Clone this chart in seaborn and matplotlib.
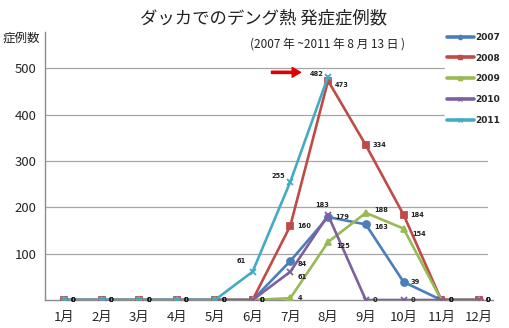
import numpy as np
import pandas as pd
import matplotlib
matplotlib.use("Agg")
import matplotlib.pyplot as plt
import seaborn as sns
from matplotlib.lines import Line2D

months = list(range(1, 13))
month_labels = ["1月", "2月", "3月", "4月", "5月", "6月", "7月", "8月", "9月", "10月", "11月", "12月"]
y2007 = [0, 0, 0, 0, 0, 0, 84, 179, 163, 39, 0, 0]
y2008 = [0, 0, 0, 0, 0, 0, 160, 473, 334, 184, 0, 0]
y2009 = [0, 0, 0, 0, 0, 0, 4, 125, 188, 154, 0, 0]
y2010 = [0, 0, 0, 0, 0, 0, 61, 183, 0, 0, 0, 0]
y2011 = [0, 0, 0, 0, 0, 61, 255, 482, np.nan, np.nan, np.nan, np.nan]
years = ["2007", "2008", "2009", "2010", "2011"]
series = [y2007, y2008, y2009, y2010, y2011]
yticks = [100, 200, 300, 400, 500]

title = "ダッカでのデング熱 発症症例数"
subtitle = "(2007 年 ~2011 年 8 月 13 日 )"
ylabel = "症例数"

colors = {"2007": "#4A7EBB", "2008": "#BE4B48", "2009": "#98B954", "2010": "#7D60A0", "2011": "#46AAC5"}
markers = {"2007": "o", "2008": "s", "2009": "^", "2010": "x", "2011": "x"}

rows = []
for yr, vals in zip(years, series):
    for m, v in zip(months, vals):
        rows.append({"month": m, "cases": v, "year": yr})
df = pd.DataFrame(rows)

sns.set_theme(style="white")
plt.rcParams["font.family"] = ["Noto Sans CJK JP", "DejaVu Sans"]

fig = plt.figure(figsize=(5.10, 3.28), dpi=100)
ax = fig.add_axes([45 / 510, 1 - 300 / 328, (493 - 45) / 510, (300 - 32) / 328])

for y in yticks:
    xmax = 12.21 if y < 350 else 11.07
    ax.plot([0.5, xmax], [y, y], color="#a6a6a6", lw=0.9, zorder=0)

for yr in years:
    sub = df[df["year"] == yr]
    sns.lineplot(data=sub, x="month", y="cases", color=colors[yr], marker=markers[yr],
                 linewidth=1.9, markersize=5, markeredgewidth=1.3,
                 markeredgecolor=colors[yr], ax=ax, legend=False, zorder=3)

# data labels
offsets = {
    ("2011", 6): (-5, 8, "right"), ("2011", 7): (-4, 4, "right"), ("2011", 8): (-3, 2, "right"),
    ("2010", 8): (-4, 7, "center"), ("2009", 9): (6, 2, "left"),
    ("2009", 8): (6, -3, "left"), ("2007", 7): (5, -2, "left"), ("2010", 7): (5, -4, "left"),
    ("2007", 9): (6, -2, "left"), ("2009", 10): (6, -4, "left"), ("2008", 8): (5, -3, "left"),
}
for yr, vals in zip(years, series):
    for m, v in zip(months, vals):
        if isinstance(v, float) and np.isnan(v):
            continue
        dx, dy, ha = offsets.get((yr, m), (5, 0, "left"))
        ax.annotate(f"{int(v)}", xy=(m, v), xytext=(dx, dy), textcoords="offset points",
                    ha=ha, va="center", fontsize=4.8, fontweight="bold", color="#222222",
                    family="DejaVu Sans", zorder=5)

# red arrow
ax.annotate("", xy=(7.27, 491), xytext=(6.5, 491),
            arrowprops=dict(facecolor="#e00000", edgecolor="#e00000", width=1.6,
                            headwidth=7, headlength=6), zorder=6)

ax.set_xlim(0.5, 12.37)
ax.set_ylim(0, 578)
ax.set_xticks(months)
ax.set_xticklabels(month_labels, fontsize=9.5)
ax.set_yticks(yticks)
ax.set_yticklabels([str(t) for t in yticks], fontsize=9.5)
ax.tick_params(axis="x", length=0, pad=8)
ax.tick_params(axis="y", length=0, pad=6)
ax.set_xlabel("")
ax.set_ylabel("")
for s in ["top", "right"]:
    ax.spines[s].set_visible(False)
for s in ["left", "bottom"]:
    ax.spines[s].set_color("#8c8c8c")
    ax.spines[s].set_linewidth(1.0)

fig.text(264 / 510, 1 - 18 / 328, title, ha="center", va="center", fontsize=12.5, color="#222222")
fig.text(328 / 510, 1 - 44 / 328, subtitle, ha="center", va="center", fontsize=8.5, color="#222222")
fig.text(3 / 510, 1 - 38 / 328, ylabel, ha="left", va="center", fontsize=9, color="#222222")

handles = [Line2D([0], [0], color=colors[y], lw=2.6, marker=markers[y], markersize=3,
                  markeredgecolor=colors[y]) for y in years]
leg = fig.legend(handles, years, loc="upper left", bbox_to_anchor=(445 / 510, 1 - 31 / 328),
                 frameon=True, facecolor="white", edgecolor="white", framealpha=1,
                 handlelength=3.0, handletextpad=0.2, labelspacing=1.3,
                 prop={"size": 6.5, "weight": "bold", "family": "DejaVu Sans"},
                 borderpad=0.2, borderaxespad=0)

fig.savefig("out.png", dpi=100)
